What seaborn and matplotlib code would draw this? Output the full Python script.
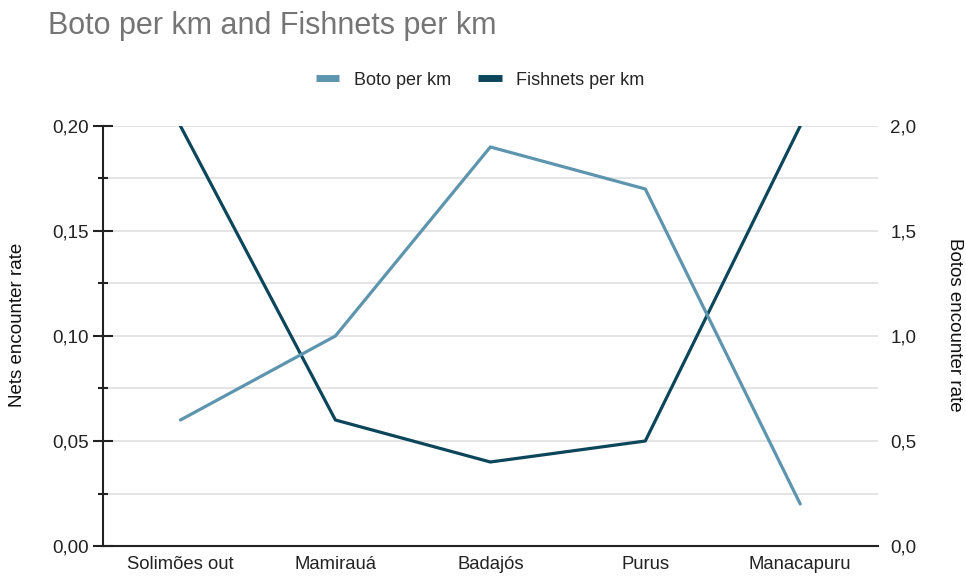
import matplotlib
matplotlib.use("Agg")
import matplotlib.pyplot as plt
import seaborn as sns
import pandas as pd
from matplotlib.ticker import FuncFormatter, MultipleLocator
from matplotlib.lines import Line2D

categories = ["Solimões out", "Mamirauá", "Badajós", "Purus", "Manacapuru"]
boto_per_km = [0.6, 1.0, 1.9, 1.7, 0.2]
fishnets_per_km = [0.20, 0.06, 0.04, 0.05, 0.20]

title = "Boto per km and Fishnets per km"
left_label = "Nets encounter rate"
right_label = "Botos encounter rate"
boto_color = "#5e95ae"
net_color = "#0c465b"

sns.set_theme(style="white")
plt.rcParams["font.family"] = ["Liberation Sans", "DejaVu Sans"]

df = pd.DataFrame({"cat": categories, "boto": boto_per_km, "nets": fishnets_per_km})
df["x"] = range(len(categories))

fig = plt.figure(figsize=(9.66, 5.8), dpi=100)
ax = fig.add_axes([0.1066, 0.0586, 0.802, 0.7242])
ax2 = ax.twinx()

sns.lineplot(data=df, x="x", y="nets", ax=ax, color=net_color, linewidth=2.3, zorder=3)
sns.lineplot(data=df, x="x", y="boto", ax=ax2, color=boto_color, linewidth=2.3, zorder=3)

ax.set_xlim(-0.5, len(categories) - 0.5)
ax.set_ylim(0, 0.20)
ax2.set_ylim(0, 2.0)
ax.set_xticks(range(len(categories)))
ax.set_xticklabels(categories, fontsize=13.3, color="#222222")

ax.yaxis.set_major_locator(MultipleLocator(0.05))
ax.yaxis.set_minor_locator(MultipleLocator(0.025))
ax2.yaxis.set_major_locator(MultipleLocator(0.5))
ax.yaxis.set_major_formatter(FuncFormatter(lambda v, p: f"{v:.2f}".replace(".", ",")))
ax2.yaxis.set_major_formatter(FuncFormatter(lambda v, p: f"{v:.1f}".replace(".", ",")))

ax.grid(True, which="both", axis="y", color="#dcdcdc", linewidth=1.1)
ax.set_axisbelow(True)
ax2.grid(False)

for s in ["top", "right"]:
    ax.spines[s].set_visible(False)
for s in ["top", "right", "left", "bottom"]:
    ax2.spines[s].set_visible(False)
ax.spines["left"].set_color("#222222")
ax.spines["bottom"].set_color("#222222")
ax.spines["left"].set_linewidth(1.5)
ax.spines["bottom"].set_linewidth(1.5)

ax.tick_params(axis="y", which="major", direction="inout", length=14, width=1.5,
               color="#222222", labelsize=13.5, labelcolor="#222222", left=True, pad=3)
ax.tick_params(axis="y", which="minor", direction="inout", length=7, width=1.5,
               color="#222222", left=True)
ax.tick_params(axis="x", length=0, pad=7)
ax2.tick_params(axis="y", length=0, labelsize=13.5, labelcolor="#222222", pad=9)

ax.set_xlabel("")
ax.set_ylabel(left_label, fontsize=13.5, color="#111111")
ax2.set_ylabel(right_label, fontsize=13.5, color="#111111", rotation=270)
ax.yaxis.set_label_coords(-0.110, 0.526)
ax2.yaxis.set_label_coords(1.099, 0.526)
ax.yaxis.label.set_va("center")
ax2.yaxis.label.set_va("center")

fig.text(0.05, 0.955, title, fontsize=22, color="#757575", ha="left", va="center")

handles = [Line2D([], [], color=boto_color, linewidth=5, solid_capstyle="butt"),
           Line2D([], [], color=net_color, linewidth=5, solid_capstyle="butt")]
fig.legend(handles, ["Boto per km", "Fishnets per km"], loc="center",
           bbox_to_anchor=(0.497, 0.862), ncol=2, frameon=False, fontsize=13,
           handlelength=1.3, handletextpad=0.8, columnspacing=1.5)

fig.savefig("out.png", dpi=100)
